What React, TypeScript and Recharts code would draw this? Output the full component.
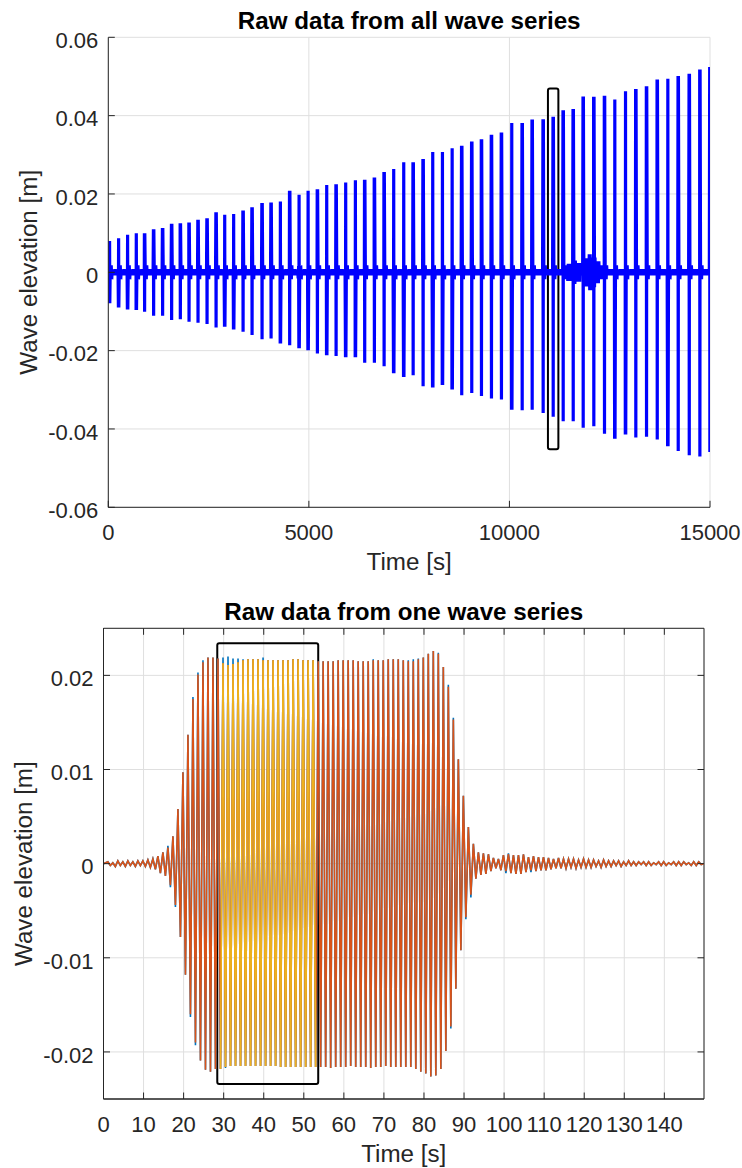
import React from "react";
import { ComposedChart, Line, XAxis, YAxis, CartesianGrid, ReferenceArea } from "recharts";

const FONT = "'Liberation Sans', Arial, Helvetica, sans-serif";
const AXIS = "#262626";
const GRID = "#dfdfdf";
const TICK_LEN = 6.5;

// ---------- top panel: one burst per wave series ----------
const SERIES_TIME = [
  32, 257, 481, 698, 905, 1130, 1354, 1579, 1796, 2013, 2237, 2462, 2687, 2902, 3125, 3360, 3584,
  3833, 4058, 4290, 4522, 4756, 4981, 5213, 5445, 5679, 5918, 6160, 6392, 6634, 6876, 7115, 7365,
  7600, 7848, 8088, 8330, 8572, 8811, 9061, 9303, 9552, 9801, 10058, 10318, 10567, 10841, 11091,
  11340, 11590, 11839, 12104, 12370, 12627, 12894, 13151, 13418, 13685, 13949, 14208, 14483, 14748,
  14997,
];
const SERIES_MAX = [
  0.008, 0.0087, 0.0096, 0.01, 0.01, 0.011, 0.0113, 0.0124, 0.0125, 0.0127, 0.0134, 0.0138, 0.0153,
  0.0147, 0.0149, 0.0158, 0.0166, 0.0177, 0.0178, 0.0181, 0.0208, 0.0198, 0.0208, 0.0212, 0.0223,
  0.0225, 0.0229, 0.0235, 0.0236, 0.0242, 0.0256, 0.0264, 0.0281, 0.0281, 0.0289, 0.0307, 0.0307,
  0.0317, 0.0323, 0.0334, 0.034, 0.0351, 0.0357, 0.0381, 0.0381, 0.039, 0.0391, 0.0397, 0.0414,
  0.0417, 0.0449, 0.0448, 0.0451, 0.0441, 0.0462, 0.0468, 0.0475, 0.0492, 0.0494, 0.0501, 0.0507,
  0.0518, 0.0524,
];
const SERIES_MIN = [
  -0.0079, -0.009, -0.0095, -0.0096, -0.0101, -0.0111, -0.0111, -0.0122, -0.012, -0.0126, -0.0129,
  -0.0132, -0.0141, -0.0139, -0.0146, -0.0152, -0.016, -0.0171, -0.0169, -0.0182, -0.0186, -0.0194,
  -0.0199, -0.0207, -0.0212, -0.0214, -0.0217, -0.0217, -0.0231, -0.0231, -0.024, -0.0258, -0.0267,
  -0.0263, -0.0291, -0.0294, -0.0288, -0.0299, -0.0314, -0.0308, -0.0316, -0.0322, -0.0325, -0.0351,
  -0.0352, -0.0351, -0.0359, -0.0369, -0.038, -0.038, -0.0397, -0.0393, -0.0412, -0.0425, -0.0414,
  -0.0422, -0.042, -0.0427, -0.0444, -0.0456, -0.0467, -0.047, -0.0459,
];
// residual water level between series
const NOISE_LEVEL = 0.0008;
const TAIL_LEVEL = 0.0018;
const TAIL_SPAN = 55;
// [from, to, level] stretches where the basin was more disturbed
const DISTURBED: [number, number, number][] = [
  [4700, 4800, 0.0016],
  [11420, 11560, 0.0022],
  [11560, 11680, 0.003],
  [11680, 11800, 0.0024],
  [11880, 11960, 0.0036],
  [11960, 12060, 0.0046],
  [12060, 12160, 0.0038],
  [12160, 12260, 0.0028],
  [12260, 12340, 0.0018],
];
const TOP_X_TICKS = [0, 5000, 10000, 15000];
const TOP_Y_TICKS = [-0.06, -0.04, -0.02, 0, 0.02, 0.04, 0.06];
const TOP_BOX = { x1: 10960, x2: 11220, y1: -0.0452, y2: 0.0469 };

// ---------- bottom panel: one wave series, crest / trough per wave ----------
const CREST_T0 = 1.08;
const WAVE_PERIOD = 1.25;
const CREST = [
  0.0002, 0.0001, 0.0003, 0.0002, 0.0003, 0.0002, 0.0003, 0.0003,
  0.0004, 0.0005, 0.0008, 0.0012, 0.0017, 0.0029, 0.0058, 0.0097, 0.0137, 0.0175, 0.0201, 0.0214,
  0.0219, 0.0219, 0.0218,
  0.0213, 0.0211, 0.0212, 0.0214, 0.0216, 0.0217, 0.0217, 0.0217, 0.0216, 0.0216, 0.0216, 0.0216,
  0.0216, 0.0216, 0.0217, 0.0217, 0.0216, 0.0216, 0.0216,
  0.0215, 0.0215, 0.0215, 0.0215, 0.0216, 0.0216, 0.0216, 0.0216, 0.0215, 0.0215, 0.0215, 0.0216,
  0.0216, 0.0216, 0.0217, 0.0217, 0.0217, 0.0216, 0.0215, 0.0215, 0.0217, 0.0219, 0.0223, 0.0226,
  0.0223,
  0.0209, 0.0188, 0.0153, 0.0111, 0.0072, 0.0039, 0.0021, 0.0012, 0.0011, 0.001, 0.0006, 0.0005,
  0.0009, 0.001, 0.0009, 0.0009, 0.001, 0.0007,
  0.0008, 0.0007, 0.0007, 0.0006, 0.0005, 0.0006, 0.0005, 0.0005, 0.0005, 0.0004, 0.0005, 0.0004,
  0.0004, 0.0003, 0.0004, 0.0003, 0.0003, 0.0003, 0.0002, 0.0003, 0.0002, 0.0002, 0.0002, 0.0002,
  0.0001, 0.0002, 0.0002, 0.0001, 0.0002, 0.0002, 0.0002, 0.0001, 0.0002, 0.0002,
];
const TROUGH = [
  -0.0002, -0.0003, -0.0002, -0.0003, -0.0002, -0.0003, -0.0002, -0.0003,
  -0.0004, -0.0006, -0.001, -0.0013, -0.0023, -0.0044, -0.0078, -0.0118, -0.016, -0.019, -0.0209,
  -0.0219, -0.0221, -0.0218, -0.0218,
  -0.0216, -0.0215, -0.0215, -0.0215, -0.0215, -0.0215, -0.0215, -0.0215, -0.0215, -0.0215,
  -0.0215, -0.0216, -0.0216, -0.0216, -0.0216, -0.0216, -0.0216, -0.0216, -0.0216,
  -0.0216, -0.0216, -0.0217, -0.0216, -0.0216, -0.0216, -0.0215, -0.0216, -0.0216, -0.0216,
  -0.0217, -0.0216, -0.0216, -0.0215, -0.0216, -0.0216, -0.0216, -0.0216,
  -0.0216, -0.0218, -0.0221, -0.0223, -0.0226, -0.0225, -0.0218, -0.0199, -0.0173, -0.0133,
  -0.0092, -0.0057, -0.0033, -0.0016, -0.0012, -0.0011, -0.0008, -0.0005, -0.0007, -0.0008,
  -0.001, -0.0011, -0.0011, -0.0009, -0.0007,
  -0.0008, -0.0007, -0.0007, -0.0006, -0.0005, -0.0005, -0.0005, -0.0004, -0.0005, -0.0004,
  -0.0004, -0.0004, -0.0003, -0.0004, -0.0003, -0.0003, -0.0002, -0.0003, -0.0002, -0.0002,
  -0.0002, -0.0001, -0.0002, -0.0002, -0.0001, -0.0002, -0.0002, -0.0001, -0.0002, -0.0002,
  -0.0001, -0.0002, -0.0002, -0.0001,
];
// second probe: where its tips stick out from under the first one
const BLUE_CREST_FIX: [number, number][] = [
  [12, 0.0019], [17, 0.0177], [18, 0.0203], [19, 0.0216], [23, 0.0219], [24, 0.022], [25, 0.0218],
  [26, 0.0218], [27, 0.0217], [31, 0.0219], [53, 0.0217], [60, 0.0216], [61, 0.0217], [62, 0.0218],
  [66, 0.0224], [68, 0.019], [69, 0.0155], [80, 0.0011],
];
const BLUE_TROUGH_FIX: [number, number][] = [
  [12, -0.0025], [13, -0.0046], [16, -0.0163], [17, -0.0193], [23, -0.0217], [68, -0.0175],
  [71, -0.0059], [72, -0.0036], [79, -0.001], [84, -0.0009],
];
const WINDOW = [29.0, 53.3];
const BOT_END = 149.9;
const BOT_X_TICKS = [0, 10, 20, 30, 40, 50, 60, 70, 80, 90, 100, 110, 120, 130, 140];
const BOT_Y_TICKS = [-0.02, -0.01, 0, 0.01, 0.02];
const BOT_BOX = { x1: 28.4, x2: 53.6, y1: -0.0234, y2: 0.0234 };

type Pt = { t: number; y: number };

// ----- build drawable polylines from the read values -----
const BURST_HALF = 30;
const BURST_STEP = 5;
const NOISE_STEP = 12;

function gapLevel(t: number, lastEnd: number): number {
  const hit = DISTURBED.find(([a, b]) => t >= a && t < b);
  if (hit) return hit[2];
  if (t - lastEnd < TAIL_SPAN) return TAIL_LEVEL;
  return NOISE_LEVEL;
}

const topLine: Pt[] = [];
{
  let sign = 1;
  let cursor = 0;
  let lastEnd = -1000;
  SERIES_TIME.forEach((tc, i) => {
    const start = tc - BURST_HALF;
    for (let t = cursor; t < start; t += NOISE_STEP) {
      topLine.push({ t, y: sign * gapLevel(t, lastEnd) });
      sign = -sign;
    }
    for (let t = start; t <= tc + BURST_HALF; t += BURST_STEP) {
      topLine.push({ t, y: sign > 0 ? SERIES_MAX[i] : SERIES_MIN[i] });
      sign = -sign;
    }
    lastEnd = tc + BURST_HALF;
    cursor = lastEnd + NOISE_STEP;
  });
  for (let t = cursor; t <= 15000; t += NOISE_STEP) {
    topLine.push({ t, y: sign * gapLevel(t, lastEnd) });
    sign = -sign;
  }
}

function waveLine(crest: number[], trough: number[]): Pt[] {
  const pts: Pt[] = [{ t: 0, y: 0 }];
  crest.forEach((c, k) => {
    const t = CREST_T0 + k * WAVE_PERIOD;
    pts.push({ t, y: c });
    pts.push({ t: t + WAVE_PERIOD / 2, y: trough[k] });
  });
  pts.push({ t: BOT_END, y: 0 });
  return pts;
}

const orangeLine = waveLine(CREST, TROUGH);
const blueCrest = CREST.slice();
BLUE_CREST_FIX.forEach(([k, v]) => (blueCrest[k] = v));
const blueTrough = TROUGH.slice();
BLUE_TROUGH_FIX.forEach(([k, v]) => (blueTrough[k] = v));
const blueLine = waveLine(blueCrest, blueTrough);
const yellowLine = orangeLine.filter((p) => p.t >= WINDOW[0] && p.t <= WINDOW[1]);

// ----- geometry -----
type Rect = { left: number; right: number; top: number; bottom: number };
const W = 742;
const TOP_H = 590;
const TOP_PLOT: Rect = { left: 108.3, right: 710, top: 37.3, bottom: 507.3 };
const BOT_TOP = 590;
const BOT_H = 578;
const BOT_PLOT: Rect = { left: 103.5, right: 704, top: 38.3, bottom: 509 };

const fmtY = (v: number) => (v === 0 ? "0" : v.toFixed(2));

function makeXTick(plot: Rect, box: boolean) {
  return (props: any) => {
    const { x, payload } = props;
    return (
      <g>
        <line x1={x} x2={x} y1={plot.bottom} y2={plot.bottom - TICK_LEN} stroke={AXIS} />
        {box && <line x1={x} x2={x} y1={plot.top} y2={plot.top + TICK_LEN} stroke={AXIS} />}
        <text x={x} y={plot.bottom + 32.7} textAnchor="middle" fontSize={22} fill={AXIS} fontFamily={FONT}>
          {String(payload.value)}
        </text>
      </g>
    );
  };
}

function makeYTick(plot: Rect, box: boolean) {
  return (props: any) => {
    const { y, payload } = props;
    return (
      <g>
        <line x1={plot.left} x2={plot.left + TICK_LEN} y1={y} y2={y} stroke={AXIS} />
        {box && <line x1={plot.right} x2={plot.right - TICK_LEN} y1={y} y2={y} stroke={AXIS} />}
        <text x={plot.left - 10} y={y + 10.8} textAnchor="end" fontSize={22} fill={AXIS} fontFamily={FONT}>
          {fmtY(payload.value)}
        </text>
      </g>
    );
  };
}

function Labels({ plot, height, title, yLabelX }: { plot: Rect; height: number; title: string; yLabelX: number }) {
  const cx = (plot.left + plot.right) / 2;
  const cy = (plot.top + plot.bottom) / 2;
  return (
    <svg width={W} height={height} style={{ position: "absolute", left: 0, top: 0, pointerEvents: "none" }}>
      <text x={cx} y={plot.top - 8.3} textAnchor="middle" fontSize={24.2} fontWeight="bold" fill="#000" fontFamily={FONT}>
        {title}
      </text>
      <text x={cx} y={plot.bottom + 63} textAnchor="middle" fontSize={24.2} fill={AXIS} fontFamily={FONT}>
        Time [s]
      </text>
      <text
        x={yLabelX}
        y={cy}
        transform={`rotate(-90 ${yLabelX} ${cy})`}
        textAnchor="middle"
        fontSize={24.2}
        fill={AXIS}
        fontFamily={FONT}
      >
        Wave elevation [m]
      </text>
    </svg>
  );
}

function AllSeriesChart() {
  const p = TOP_PLOT;
  return (
    <div style={{ position: "absolute", left: 0, top: 0, width: W, height: TOP_H }}>
      <ComposedChart
        width={W}
        height={TOP_H}
        margin={{ top: p.top, right: W - p.right, bottom: 0, left: 0 }}
      >
        <CartesianGrid stroke={GRID} />
        <XAxis
          type="number"
          dataKey="t"
          domain={[0, 15000]}
          ticks={TOP_X_TICKS}
          interval={0}
          allowDataOverflow
          height={TOP_H - p.bottom}
          axisLine={{ stroke: AXIS }}
          tickLine={false}
          tick={makeXTick(p, false)}
        />
        <YAxis
          type="number"
          domain={[-0.06, 0.06]}
          ticks={TOP_Y_TICKS}
          interval={0}
          allowDataOverflow
          width={p.left}
          axisLine={{ stroke: AXIS }}
          tickLine={false}
          tick={makeYTick(p, false)}
        />
        <Line
          data={topLine}
          dataKey="y"
          type="linear"
          stroke="#0000ff"
          strokeWidth={1.2}
          dot={false}
          activeDot={false}
          isAnimationActive={false}
        />
        <ReferenceArea
          x1={TOP_BOX.x1}
          x2={TOP_BOX.x2}
          y1={TOP_BOX.y1}
          y2={TOP_BOX.y2}
          fill="none"
          fillOpacity={0}
          stroke="#000"
          strokeWidth={2}
          radius={2}
        />
      </ComposedChart>
      <Labels plot={p} height={TOP_H} title="Raw data from all wave series" yLabelX={37.3} />
    </div>
  );
}

function OneSeriesChart() {
  const p = BOT_PLOT;
  return (
    <div style={{ position: "absolute", left: 0, top: BOT_TOP, width: W, height: BOT_H }}>
      <ComposedChart
        width={W}
        height={BOT_H}
        margin={{ top: p.top, right: W - p.right, bottom: 0, left: 0 }}
      >
        <CartesianGrid stroke={GRID} />
        <XAxis
          type="number"
          dataKey="t"
          domain={[0, BOT_END]}
          ticks={BOT_X_TICKS}
          interval={0}
          allowDataOverflow
          height={BOT_H - p.bottom}
          axisLine={{ stroke: AXIS }}
          tickLine={false}
          tick={makeXTick(p, true)}
        />
        <YAxis
          type="number"
          domain={[-0.025, 0.025]}
          ticks={BOT_Y_TICKS}
          interval={0}
          allowDataOverflow
          width={p.left}
          axisLine={{ stroke: AXIS }}
          tickLine={false}
          tick={makeYTick(p, true)}
        />
        <Line data={blueLine} dataKey="y" type="linear" stroke="#0072bd" strokeWidth={1.6} dot={false} activeDot={false} isAnimationActive={false} />
        <Line data={orangeLine} dataKey="y" type="linear" stroke="#d95319" strokeWidth={1.6} dot={false} activeDot={false} isAnimationActive={false} />
        <Line data={yellowLine} dataKey="y" type="linear" stroke="#edb120" strokeWidth={1.6} dot={false} activeDot={false} isAnimationActive={false} />
        <ReferenceArea x1={0} x2={BOT_END} y1={-0.025} y2={0.025} fill="none" fillOpacity={0} stroke={AXIS} strokeWidth={1} />
        <ReferenceArea
          x1={BOT_BOX.x1}
          x2={BOT_BOX.x2}
          y1={BOT_BOX.y1}
          y2={BOT_BOX.y2}
          fill="none"
          fillOpacity={0}
          stroke="#000"
          strokeWidth={2}
          radius={2}
        />
      </ComposedChart>
      <Labels plot={p} height={BOT_H} title="Raw data from one wave series" yLabelX={32.5} />
    </div>
  );
}

export default function App() {
  return (
    <div style={{ position: "absolute", left: 0, top: 0, width: W, height: 1168, background: "#fff" }}>
      <AllSeriesChart />
      <OneSeriesChart />
    </div>
  );
}
